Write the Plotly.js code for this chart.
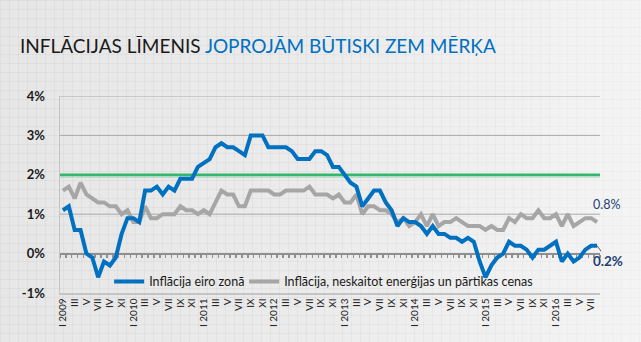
<!DOCTYPE html>
<html>
<head>
<meta charset="utf-8">
<script src="https://cdn.plot.ly/plotly-3.0.1.min.js"></script>
<style>
  html, body { margin: 0; padding: 0; }
  body {
    width: 641px; height: 342px; overflow: hidden;
    background-color: #ebebeb;
    background-image:
      linear-gradient(to right, rgba(0,0,0,0.02), rgba(255,255,255,0) 45%, rgba(255,255,255,0.45)),
      linear-gradient(rgba(0,0,0,0.035) 1px, transparent 1px),
      linear-gradient(90deg, rgba(0,0,0,0.035) 1px, transparent 1px);
    background-size: 100% 100%, 9px 9px, 9px 9px;
  }
  #chart { width: 641px; height: 342px; }
</style>
</head>
<body>
<div id="chart"></div>
<script>
// ---- data ----
const years = [2009, 2010, 2011, 2012, 2013, 2014, 2015, 2016];
const monthNames = ['I','II','III','IV','V','VI','VII','VIII','IX','X','XI','XII'];
// tick labels shown every second month (as in the original, incl. its "IV" in 2009)
const tickLabels2009 = ['I 2009','III','V','VII','IV','XI'];
const tickLabelsYear = ['III','V','VII','IX','XI'];
const yTickVals = [-1, 0, 1, 2, 3, 4];
const yTickText = ['-1%', '0%', '1%', '2%', '3%', '4%'];
const gridLevels = [1, 3, 4];

// Euro-area HICP inflation, % (Jan 2009 – Aug 2016)
const inflEuro = [
  1.1, 1.2, 0.6, 0.6, 0.0, -0.1, -0.6, -0.2, -0.3, -0.1, 0.5, 0.9,
  0.9, 0.8, 1.6, 1.6, 1.7, 1.5, 1.7, 1.6, 1.9, 1.9, 1.9, 2.2,
  2.3, 2.4, 2.7, 2.8, 2.7, 2.7, 2.6, 2.5, 3.0, 3.0, 3.0, 2.7,
  2.7, 2.7, 2.7, 2.6, 2.4, 2.4, 2.4, 2.6, 2.6, 2.5, 2.2, 2.2,
  2.0, 1.8, 1.7, 1.2, 1.4, 1.6, 1.6, 1.3, 1.1, 0.7, 0.9, 0.8,
  0.8, 0.7, 0.5, 0.7, 0.5, 0.5, 0.4, 0.4, 0.3, 0.4, 0.3, -0.2,
  -0.6, -0.3, -0.1, 0.0, 0.3, 0.2, 0.2, 0.1, -0.1, 0.1, 0.1, 0.2,
  0.3, -0.2, 0.0, -0.2, -0.1, 0.1, 0.2, 0.2
];
// Inflation excluding energy and food, %
const inflCore = [
  1.6, 1.7, 1.4, 1.8, 1.5, 1.4, 1.3, 1.3, 1.2, 1.2, 1.0, 1.1,
  0.8, 0.8, 1.2, 0.9, 0.9, 1.0, 1.0, 1.0, 1.2, 1.1, 1.1, 1.0,
  1.1, 1.0, 1.3, 1.6, 1.5, 1.5, 1.2, 1.2, 1.6, 1.6, 1.6, 1.6,
  1.5, 1.5, 1.6, 1.6, 1.6, 1.6, 1.7, 1.5, 1.5, 1.5, 1.4, 1.5,
  1.3, 1.3, 1.5, 1.0, 1.2, 1.2, 1.1, 1.1, 1.0, 0.8, 0.9, 0.7,
  0.8, 1.0, 0.7, 1.0, 0.7, 0.8, 0.8, 0.9, 0.8, 0.7, 0.7, 0.7,
  0.6, 0.7, 0.6, 0.6, 0.9, 0.8, 1.0, 0.9, 0.9, 1.1, 0.9, 0.9,
  1.0, 0.7, 1.0, 0.7, 0.8, 0.9, 0.9, 0.8
];
const seriesNames = ['Inflācija eiro zonā', 'Inflācija, neskaitot enerģijas un pārtikas cenas'];
const targetLevel = 2;

// ---- build categories ----
const months = [];
years.forEach(y => monthNames.forEach(m => months.push(m + ' ' + y)));
months.length = inflEuro.length;

const tickVals = [], tickText = [];
years.forEach((y, yi) => {
  const labels = yi === 0 ? tickLabels2009 : ['I ' + y].concat(tickLabelsYear);
  labels.forEach((lab, j) => {
    const idx = yi * 12 + j * 2;
    if (idx < months.length) { tickVals.push(months[idx]); tickText.push(lab); }
  });
});

const last = months.length - 1;
const navy = '#1f3f74';
const fontMain = 'Lato, "Open Sans", sans-serif';

const traces = [
  { x: months, y: inflCore, type: 'scatter', mode: 'lines', name: seriesNames[1],
    legend: 'legend2', showlegend: true,
    line: { color: '#a6a6a6', width: 4 }, hoverinfo: 'skip' },
  { x: months, y: inflEuro, type: 'scatter', mode: 'lines', name: seriesNames[0],
    legend: 'legend', showlegend: true,
    line: { color: '#0070c0', width: 4 }, hoverinfo: 'skip' },
  { x: [], y: [], xaxis: 'x2', showlegend: false, hoverinfo: 'skip', type: 'scatter' }
];

const legendCommon = {
  orientation: 'h', xanchor: 'left', y: 0.056, yanchor: 'middle',
  bgcolor: 'rgba(0,0,0,0)', font: { size: 12.5, color: '#1a1a1a' }
};

const shapes = gridLevels.map(v => ({
  type: 'line', xref: 'paper', yref: 'y', x0: 0, x1: 1, y0: v, y1: v,
  line: { color: '#a9a9a9', width: 1 }, layer: 'below'
}));
shapes.push(
  { type: 'line', xref: 'paper', yref: 'y', x0: 0, x1: 1, y0: targetLevel - 0.035, y1: targetLevel - 0.035,
    line: { color: 'rgba(60,190,120,0.35)', width: 3 }, layer: 'below' },
  { type: 'line', xref: 'paper', yref: 'y', x0: 0, x1: 1, y0: targetLevel, y1: targetLevel,
    line: { color: '#33b86e', width: 2.5 }, layer: 'below' }
);

const layout = {
  width: 641, height: 342,
  margin: { l: 60, r: 41, t: 96, b: 49 },
  paper_bgcolor: 'rgba(0,0,0,0)',
  plot_bgcolor: 'rgba(0,0,0,0)',
  showlegend: true,
  font: { family: fontMain, color: '#222' },
  title: {
    text: 'INFLĀCIJAS LĪMENIS <span style="color:#0070c0">JOPROJĀM BŪTISKI ZEM MĒRĶA</span>',
    font: { family: fontMain, size: 19, color: '#1a1a1a', weight: 400 },
    x: 20 / 641, xanchor: 'left', xref: 'container',
    y: 1 - 46 / 342, yanchor: 'middle', yref: 'container'
  },
  xaxis: {
    type: 'category', categoryorder: 'array', categoryarray: months,
    range: [-0.5, months.length - 0.5],
    tickmode: 'array', tickvals: tickVals, ticktext: tickText,
    tickangle: -90, tickfont: { size: 10, color: '#222' },
    showgrid: false, zeroline: false,
    showline: true, linecolor: '#c4c4c4', linewidth: 1.5,
    ticks: '', fixedrange: true
  },
  xaxis2: {
    overlaying: 'x', anchor: 'free', position: 0.2,
    range: [-0.5, months.length - 0.5], tick0: -0.5, dtick: 1,
    showticklabels: false, ticks: 'outside', ticklen: 3, tickwidth: 1.5, tickcolor: '#8f8f8f',
    showline: true, linecolor: '#8f8f8f', linewidth: 2.5,
    showgrid: false, zeroline: false, layer: 'below traces'
  },
  yaxis: {
    range: [-1, 4], tickmode: 'array',
    tickvals: yTickVals, ticktext: yTickText,
    tickfont: { size: 13, color: '#1a1a1a', weight: 'bold' },
    ticklabelstandoff: 11,
    showgrid: false,
    zeroline: false, showline: true, linecolor: '#c4c4c4', linewidth: 1.5,
    fixedrange: true
  },
  shapes: shapes,
  legend: Object.assign({ x: 0.091 }, legendCommon),
  legend2: Object.assign({ x: 0.341 }, legendCommon),
  annotations: [
    { x: months[last], y: inflCore[last], xref: 'x', yref: 'y',
      text: inflCore[last].toFixed(1) + '%', showarrow: false,
      xshift: 9, yshift: 18, font: { size: 12.5, color: navy } },
    { x: months[last], y: inflEuro[last], xref: 'x', yref: 'y',
      text: '<b>' + inflEuro[last].toFixed(1) + '%</b>', showarrow: true,
      arrowhead: 0, arrowwidth: 0.8, arrowcolor: '#333', ax: 11, ay: 15, standoff: 0,
      font: { size: 13.5, color: navy } }
  ]
};

Plotly.newPlot('chart', traces, layout, { displayModeBar: false, staticPlot: true });
</script>
</body>
</html>
